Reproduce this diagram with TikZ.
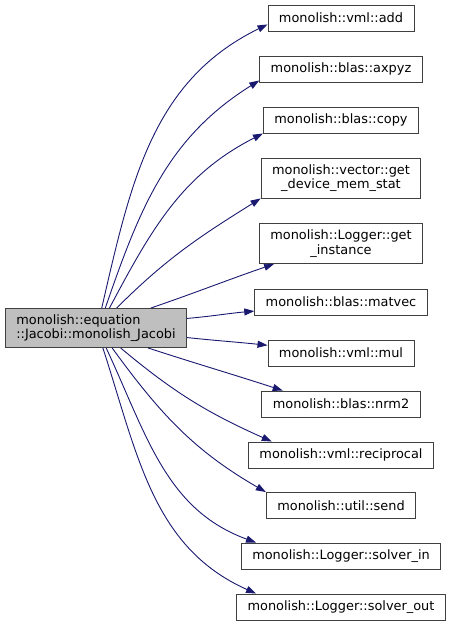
\documentclass[tikz,border=0pt]{standalone}
\usepackage{fontspec}
\setmainfont{DejaVu Sans}
\usetikzlibrary{arrows.meta}
\definecolor{edgeblue}{RGB}{25,25,112}
\definecolor{rootgray}{RGB}{191,191,191}

\begin{document}
\begin{tikzpicture}[x=1pt,y=1pt,
  fn/.style={draw=black!75, line width=0.9pt, inner xsep=11pt, inner ysep=0pt,
    minimum height=26pt, align=center, font=\fontsize{12.9}{14.4}\selectfont},
  fntwo/.style={fn, minimum height=40pt},
  rootfn/.style={fn, fill=rootgray, minimum height=39pt, align=left},
  call/.style={draw=edgeblue, line width=0.9pt, -{Triangle[length=10pt,width=7pt]}}]
\useasboundingbox (0,0) rectangle (452,625);
\node[rootfn] (root) at (96,297) {monolish::equation\\::Jacobi::monolish\_Jacobi};
\node[fn] (add) at (341,607) {monolish::vml::add};
\node[fn] (axpyz) at (341,556) {monolish::blas::axpyz};
\node[fn] (copy) at (341,505) {monolish::blas::copy};
\node[fntwo] (memstat) at (341,447) {monolish::vector::get\\\_device\_mem\_stat};
\node[fntwo] (instance) at (341,381.5) {monolish::Logger::get\\\_instance};
\node[fn] (matvec) at (341,323) {monolish::blas::matvec};
\node[fn] (mul) at (341,272) {monolish::vml::mul};
\node[fn] (nrm2) at (341,221) {monolish::blas::nrm2};
\node[fn] (recip) at (341,170) {monolish::vml::reciprocal};
\node[fn] (send) at (341,119.5) {monolish::util::send};
\node[fn] (solverin) at (341,69) {monolish::Logger::solver\_in};
\node[fn] (solverout) at (341,18) {monolish::Logger::solver\_out};
\draw[call] (root.74) to[out=77,in=206] (add.185);
\draw[call] (root.65) to[out=71,in=212] (axpyz.188);
\draw[call] (root.56) to[out=62,in=207] (copy.south west);
\draw[call] (root.44) to[out=45,in=212] (memstat.south west);
\draw[call] (root.20) to[out=19,in=199] (instance.197);
\draw[call] (root.6) to[out=5,in=185] (matvec.186);
\draw[call] (root.-6) to[out=-6,in=174] (mul.174);
\draw[call] (root.-21) to[out=-18,in=162] (nrm2.167);
\draw[call] (root.-39) to[out=-40,in=156] (recip.169);
\draw[call] (root.-51) to[out=-54,in=150] (send.north west);
\draw[call] (root.-63) to[out=-65,in=160] (solverin.171);
\draw[call] (root.-71) to[out=-72,in=156] (solverout.171);
\end{tikzpicture}
\end{document}
